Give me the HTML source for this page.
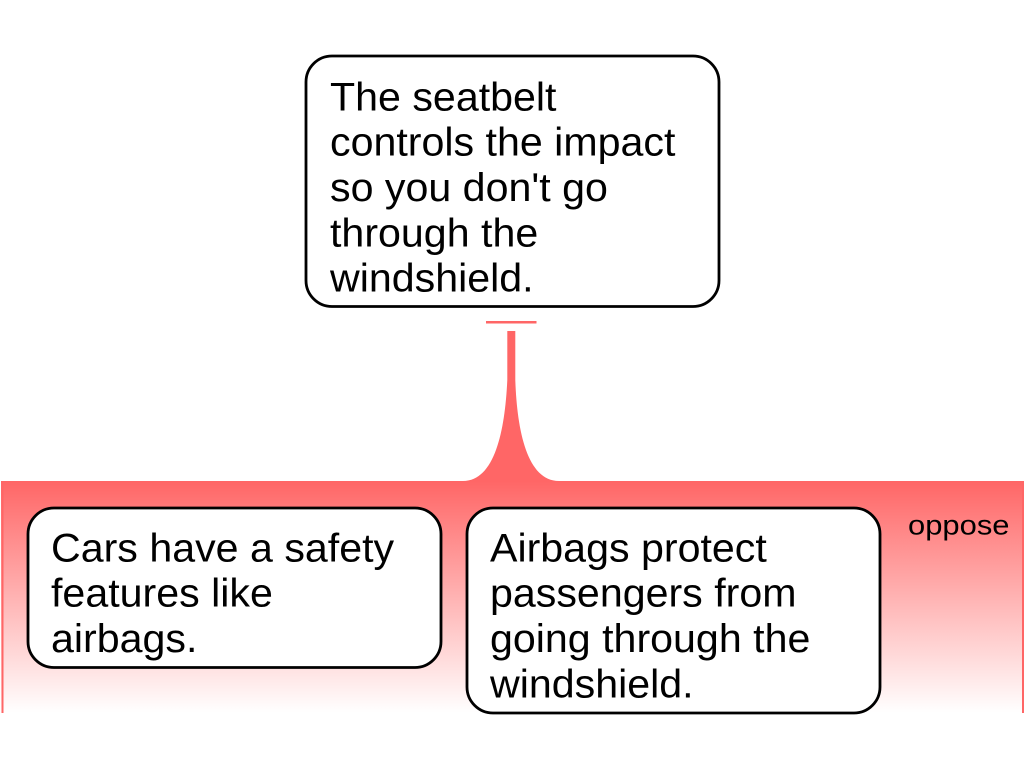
<!DOCTYPE html>
<html>
<head>
<meta charset="utf-8">
<style>
html,body{margin:0;padding:0;background:#fff;width:1024px;height:768px;overflow:hidden}
svg{display:block}
text{font-family:"Liberation Sans",sans-serif;fill:#000}
</style>
</head>
<body>
<svg width="1024" height="768" viewBox="0 0 1024 768" xmlns="http://www.w3.org/2000/svg">
<defs>
<linearGradient id="g" gradientUnits="userSpaceOnUse" x1="0" y1="481" x2="0" y2="713">
<stop offset="0" stop-color="#ff6666"/>
<stop offset="1" stop-color="#ffffff"/>
</linearGradient>
</defs>
<rect x="486" y="321" width="50.500" height="2.500" fill="#ff6666"/>
<path d="M507.300 331H515.300V380C517 430 527 481 559 481H1024V713H1V481H463C495 481 505 430 507.300 380Z" fill="url(#g)"/>
<rect x="1.500" y="481" width="2" height="232" fill="#ff6666"/>
<rect x="1022" y="481" width="2" height="232" fill="#ff6666"/>
<rect x="306" y="56" width="413" height="250.500" rx="26" ry="26" fill="#fff" stroke="#000" stroke-width="2.800"/>
<rect x="28" y="508" width="413" height="159.500" rx="26" ry="26" fill="#fff" stroke="#000" stroke-width="2.800"/>
<rect x="467" y="508" width="413" height="205" rx="26" ry="26" fill="#fff" stroke="#000" stroke-width="2.800"/>
<g font-size="40">
<g transform="translate(330 0.500) scale(1.029 1)">
<text x="0" y="110">The seatbelt</text>
<text x="0" y="155">controls the impact</text>
<text x="0" y="200.500">so you don't go</text>
<text x="0" y="246">through the</text>
<text x="0" y="291">windshield.</text>
</g>
<g transform="translate(51 0.500) scale(1.029 1)">
<text x="0" y="561">Cars have a safety</text>
<text x="0" y="606">features like</text>
<text x="0" y="651.500">airbags.</text>
</g>
<g transform="translate(490 0.500) scale(1.029 1)">
<text x="0" y="561">Airbags protect</text>
<text x="0" y="606">passengers from</text>
<text x="0" y="651.500">going through the</text>
<text x="0" y="697">windshield.</text>
</g>
</g>
<g transform="translate(908 0) scale(1.105 1)">
<text x="0" y="534.500" font-size="28">oppose</text>
</g>
</svg>
</body>
</html>
